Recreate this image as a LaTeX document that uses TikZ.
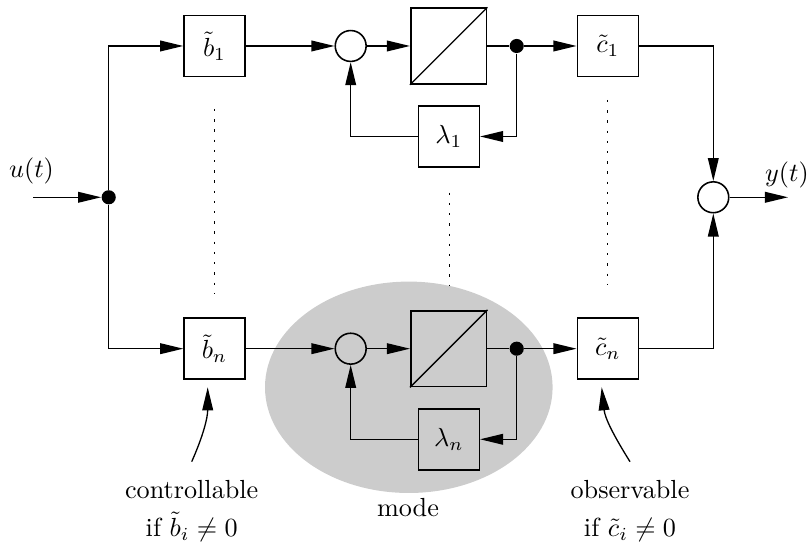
\documentclass[tikz,border=0pt]{standalone}
\usetikzlibrary{arrows.meta}
\begin{document}
\begin{tikzpicture}[x=0.382pt,y=0.382pt,
  blk/.style={draw, line width=0.6pt, minimum size=23.3pt, inner sep=0pt},
  integ/.style={draw, line width=0.6pt, minimum size=29pt, inner sep=0pt},
  sumc/.style={circle, draw, line width=0.6pt, minimum size=11.8pt, inner sep=0pt},
  junc/.style={circle, fill, minimum size=5.4pt, inner sep=0pt},
  conn/.style={-{Triangle[length=8.8pt,width=4.1pt]}, line width=0.5pt},
  wire/.style={line width=0.5pt},
  note/.style={align=center, inner sep=1pt},
  vdots/.style={line width=0.5pt, dash pattern=on 0.9pt off 3pt}]
\useasboundingbox (0,0) rectangle (810,545);

% shaded mode region
\fill[black!20] (408.8,157.7) ellipse [x radius=143.8, y radius=105.7];

% input splitting
\coordinate (uin) at (33,347.7);
\node[junc] (ju) at (108.7,347.7) {};
\node[inner sep=1pt] (ulab) at (31.5,374) {$u(t)$};

% first mode row
\node[blk] (b1) at (214.5,499) {$\tilde{b}_1$};
\node[sumc] (s1) at (350.7,499) {};
\node[integ] (i1) at (448.7,499) {};
\draw[wire] (i1.south west) -- (i1.north east);
\node[junc] (d1) at (516.7,499) {};
\node[blk] (l1) at (448.8,408.5) {$\lambda_1$};
\node[blk] (c1) at (607.8,499) {$\tilde{c}_1$};

% n-th mode row
\node[blk] (bn) at (214.5,196.3) {$\tilde{b}_n$};
\node[sumc] (sn) at (350.7,196.3) {};
\node[integ] (in) at (448.7,196.3) {};
\draw[wire] (in.south west) -- (in.north east);
\node[junc] (dn) at (516.7,196.3) {};
\node[blk] (ln) at (448.8,105.7) {$\lambda_n$};
\node[blk] (cn) at (607.8,196.3) {$\tilde{c}_n$};

% output summation
\node[sumc] (so) at (713.3,347.7) {};
\coordinate (yout) at (788,347.7);
\node[inner sep=1pt] (ylab) at (787,370) {$y(t)$};

% connections
\draw[conn] (uin) -- (ju);
\draw[conn] (ju) |- (b1);
\draw[conn] (ju) |- (bn);

\draw[conn] (b1) -- (s1);
\draw[conn] (s1) -- (i1);
\draw[wire] (i1) -- (d1);
\draw[conn] (d1) -- (c1);
\draw[conn] (d1) |- (l1);
\draw[conn] (l1) -| (s1);

\draw[conn] (bn) -- (sn);
\draw[conn] (sn) -- (in);
\draw[wire] (in) -- (dn);
\draw[conn] (dn) -- (cn);
\draw[conn] (dn) |- (ln);
\draw[conn] (ln) -| (sn);

\draw[conn] (c1) -| (so);
\draw[conn] (cn) -| (so);
\draw[conn] (so) -- (yout);

% vertical ellipsis between rows
\draw[vdots] (214.5,436) -- (214.5,252);
\draw[vdots] (449.3,352.3) -- (449.3,260);
\draw[vdots] (607.7,445) -- (607.7,260);

% annotations
\coordinate (cs) at (191.7,83.3);
\coordinate (ce) at (207.7,157.7);
\draw[conn] (cs) to[out=66,in=-90] (ce);
\coordinate (os) at (630,83.3);
\coordinate (oe) at (601.7,157.7);
\draw[conn] (os) to[out=122,in=-84] (oe);

\node[note] (ctrl) at (191.7,34) {controllable\\[2.2pt]if $\tilde{b}_i\neq 0$};
\node[note] (mode) at (408,37) {mode};
\node[note] (obs) at (630,34) {observable\\[2.2pt]if $\tilde{c}_i\neq 0$};
\end{tikzpicture}
\end{document}
